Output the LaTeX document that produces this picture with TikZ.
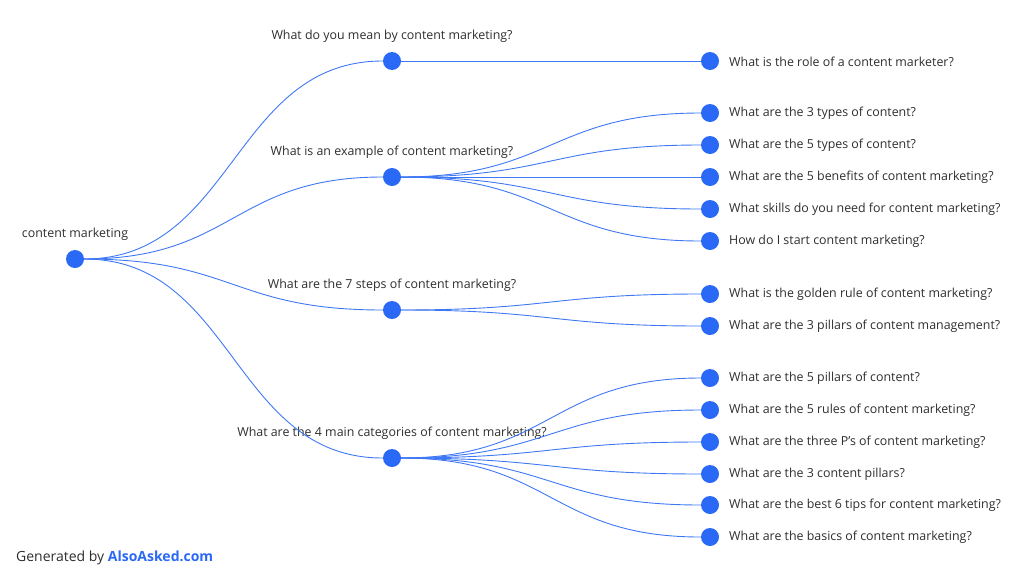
\documentclass[tikz,border=0pt]{standalone}
\usepackage{fontspec}
\setmainfont{Open Sans}
\definecolor{dotblue}{HTML}{2A69F6}
\definecolor{lineblue}{HTML}{3F78F5}
\definecolor{txtgray}{HTML}{2E2E2E}
\begin{document}
\begin{tikzpicture}[x=1pt,y=-1pt,
  dot/.style={circle,fill=dotblue,inner sep=0pt,minimum size=18pt},
  link/.style={lineblue,line width=0.9pt},
  qtext/.style={font=\fontsize{12.4}{14}\selectfont,text=txtgray,inner sep=0pt}]
\useasboundingbox (0,0) rectangle (1024,576);
% root and first level
\node[dot] (root) at (75,259) {};
\node[qtext] (rootlbl) at (75,234) {content marketing};
\foreach \n/\y/\t in {mean/61/What do you mean by content marketing?,
    example/177/What is an example of content marketing?,
    steps/310/What are the 7 steps of content marketing?,
    cats/458/What are the 4 main categories of content marketing?} {
  \node[dot] (\n) at (392,\y) {};
  \node[qtext] (\n lbl) at (392,\y-25) {\t};
  \draw[link] (root.east) .. controls +(150,0) and +(-150,0) .. (\n.west);
}
% second level
\foreach \p/\n/\y/\t in {mean/roleq/61/What is the role of a content marketer?,
    example/typesa/113/What are the 3 types of content?,
    example/typesb/145/What are the 5 types of content?,
    example/benefits/177/What are the 5 benefits of content marketing?,
    example/skills/209/What skills do you need for content marketing?,
    example/start/241/How do I start content marketing?,
    steps/golden/294/What is the golden rule of content marketing?,
    steps/mgmt/326/What are the 3 pillars of content management?,
    cats/pillarsa/378/What are the 5 pillars of content?,
    cats/rules/410/What are the 5 rules of content marketing?,
    cats/threep/442/What are the three P's of content marketing?,
    cats/pillarsb/474/What are the 3 content pillars?,
    cats/tips/505/What are the best 6 tips for content marketing?,
    cats/basics/537/What are the basics of content marketing?} {
  \node[dot] (\n) at (710,\y) {};
  \node[qtext,anchor=west] (\n lbl) at (729,\y+0.5) {\t};
  \draw[link] (\p.east) .. controls +(150,0) and +(-150,0) .. (\n.west);
}
\node[qtext,anchor=west,font=\fontsize{14}{16}\selectfont] (credit) at (16,558) {Generated by \textbf{\textcolor{dotblue}{AlsoAsked.com}}};
\end{tikzpicture}
\end{document}
